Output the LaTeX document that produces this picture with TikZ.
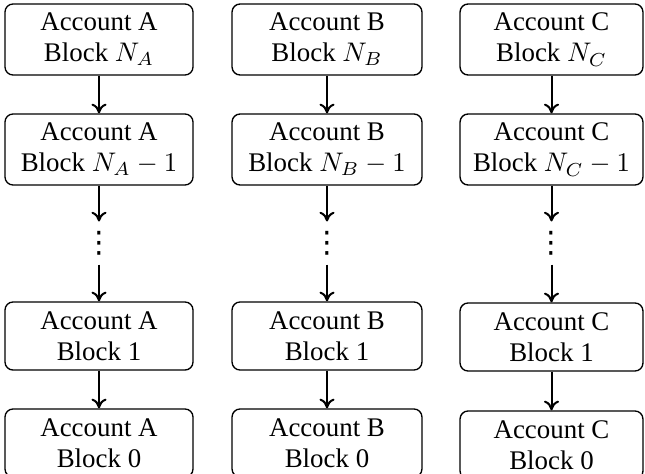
\documentclass[tikz,border=0pt]{standalone}
\usepackage{fontspec}
\setmainfont{Liberation Serif}
\newfontfamily\dotsfont{DejaVu Sans}
\usetikzlibrary{arrows.meta}
\tikzset{
  blk/.style={draw, rounded corners=3pt, align=center, inner sep=0pt, line width=0.5pt, font=\fontsize{10}{11.6}\selectfont},
  colA/.style={minimum width=69.9pt},
  colB/.style={minimum width=70.6pt},
  colC/.style={minimum width=68pt},
  tall/.style={minimum height=26.4pt},
  short/.style={minimum height=25.3pt},
  dotsnode/.style={inner sep=0pt, minimum height=15.6pt, minimum width=4pt, font=\dotsfont\fontsize{11}{11}\selectfont},
  arr/.style={-{To[length=3.6pt,width=5.6pt]}, line width=0.75pt}
}
\begin{document}
\begin{tikzpicture}[x=0.37175pt,y=-0.37175pt]
\useasboundingbox (0,0) rectangle (645,473);
% column A
\node[blk,colA,tall]  (a1) at (99,39.5)  {Account A\\Block $N_A$};
\node[blk,colA,tall]  (a2) at (99,149.5) {Account A\\Block $N_A-1$};
\node[dotsnode]       (ad) at (99,243)   {⋮};
\node[blk,colA,short] (a3) at (99,336)   {Account A\\Block 1};
\node[blk,colA,short] (a4) at (99,443)   {Account A\\Block 0};
% column B
\node[blk,colB,tall]  (b1) at (327,39.5)  {Account B\\Block $N_B$};
\node[blk,colB,tall]  (b2) at (327,149.5) {Account B\\Block $N_B-1$};
\node[dotsnode]       (bd) at (327,243)   {⋮};
\node[blk,colB,short] (b3) at (327,336)   {Account B\\Block 1};
\node[blk,colB,short] (b4) at (327,443)   {Account B\\Block 0};
% column C
\node[blk,colC,tall]  (c1) at (551.5,39.5)  {Account C\\Block $N_C$};
\node[blk,colC,tall]  (c2) at (551.5,149.5) {Account C\\Block $N_C-1$};
\node[dotsnode]       (cd) at (551.5,243)   {⋮};
\node[blk,colC,short] (c3) at (551.5,337)   {Account C\\Block 1};
\node[blk,colC,short] (c4) at (551.5,445)   {Account C\\Block 0};
% connectors
\foreach \c in {a,b,c}{
  \draw[arr] (\c1) -- (\c2);
  \draw[arr] (\c2) -- (\c d);
  \draw[arr] (\c d) -- (\c3);
  \draw[arr] (\c3) -- (\c4);
}
\end{tikzpicture}
\end{document}
